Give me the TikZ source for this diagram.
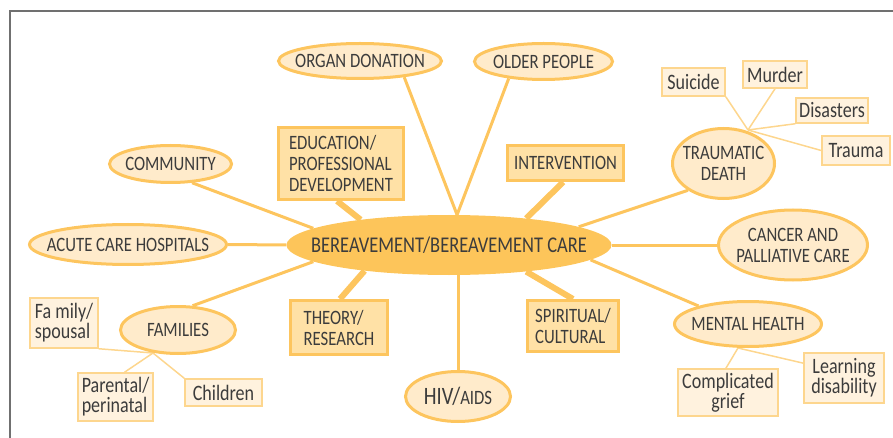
\documentclass[tikz,border=0pt]{standalone}
\usepackage{fontspec}
\setmainfont{Carlito}[FakeStretch=0.82]
\usetikzlibrary{shapes.geometric,backgrounds}
\definecolor{edge}{HTML}{FDC55E}
\definecolor{efill}{HTML}{FFEBCB}
\definecolor{rfill}{HTML}{FFE1A6}
\definecolor{sfill}{HTML}{FFF2DE}
\definecolor{sedge}{HTML}{FDD68E}
\definecolor{cfill}{HTML}{FDC55A}
\definecolor{ink}{HTML}{3C3C3C}
\definecolor{framegray}{HTML}{707070}
\begin{document}
\begin{tikzpicture}[x=1pt,y=-1pt,
  every node/.style={text=ink, inner sep=0pt},
  oval/.style={ellipse, draw=edge, line width=3pt, fill=efill, align=center,
    inner xsep=-40pt, inner ysep=-15pt,
    font=\fontsize{20.4}{21}\selectfont},
  topic/.style={rectangle, draw=edge, line width=3pt, fill=rfill, align=left,
    font=\fontsize{20.4}{21}\selectfont},
  sub/.style={rectangle, draw=sedge, line width=1.5pt, fill=sfill,
    font=\fontsize{22}{20}\selectfont},
  link/.style={draw=edge, line width=3pt},
  tlink/.style={draw=edge, line width=6pt},
  slink/.style={draw=sedge, line width=1.5pt},
]
\useasboundingbox (0,0) rectangle (893,438);
\draw[framegray, line width=2pt] (10,438) -- (10,11) -- (893,11);

% central
\node[ellipse, fill=cfill, minimum width=325pt, minimum height=60pt,
  inner xsep=-40pt, inner ysep=-15pt,
  font=\fontsize{22.5}{23}\selectfont] (cen) at (449,245) {BEREAVEMENT/BEREAVEMENT CARE};

% ovals
\node[oval, minimum width=163pt, minimum height=35pt] (organ) at (360,61) {ORGAN DONATION};
\node[oval, minimum width=138pt, minimum height=36pt] (older) at (543.5,61.5) {OLDER PEOPLE};
\node[oval, minimum width=122pt, minimum height=37pt] (comm) at (170.5,164) {COMMUNITY};
\node[oval, minimum width=102pt, minimum height=70pt] (trauma) at (723.5,163.5) {TRAUMATIC\\DEATH};
\node[oval, minimum width=197pt, minimum height=40pt] (acute) at (128,244.5) {ACUTE CARE HOSPITALS};
\node[oval, minimum width=149pt, minimum height=70pt] (cancer) at (793,245) {CANCER AND\\PALLIATIVE CARE};
\node[oval, minimum width=115pt, minimum height=47pt] (families) at (178,330) {FAMILIES};
\node[oval, minimum width=105pt, minimum height=50pt] (hiv) at (458,396.5)
  {\fontsize{25}{25}\selectfont HIV/\fontsize{20.4}{21}\selectfont AIDS};
\node[oval, minimum width=147pt, minimum height=45pt] (mental) at (748,324) {MENTAL HEALTH};

% topic boxes
\node[topic, minimum width=125pt, minimum height=72pt] (edu) at (341,163.5) {EDUCATION/\\PROFESSIONAL\\DEVELOPMENT};
\node[topic, minimum width=116pt, minimum height=35pt] (interv) at (565.5,163) {INTERVENTION};
\node[topic, minimum width=97pt, minimum height=54pt] (theory) at (339,327.5) {THEORY/\\RESEARCH};
\node[topic, minimum width=91pt, minimum height=51pt] (spirit) at (573,326) {SPIRITUAL/\\CULTURAL};

% small boxes
\node[sub, minimum width=63pt, minimum height=28pt] (suicide) at (693.5,82) {Suicide};
\node[sub, minimum width=64pt, minimum height=27pt] (murder) at (775,74.5) {Murder};
\node[sub, minimum width=72pt, minimum height=25pt] (disasters) at (832,110.5) {Disasters};
\node[sub, minimum width=68pt, minimum height=29pt] (traumaw) at (856,150.5) {Trauma};
\node[sub, minimum width=68pt, minimum height=50pt, align=left] (fam) at (64,323) {Fa mily/\\spousal};
\node[sub, minimum width=75pt, minimum height=48pt, align=left] (parental) at (115.5,397) {Parental/\\perinatal};
\node[sub, minimum width=77pt, minimum height=27pt] (children) at (223.5,392.5) {Children};
\node[sub, minimum width=100pt, minimum height=47pt, align=center] (complicated) at (728,392.5) {Complicated\\grief};
\node[sub, minimum width=80pt, minimum height=50pt, align=center] (learning) at (844,378) {Learning\\disability};

\coordinate (tj) at (748,130);
\coordinate (fj) at (153,353);
\coordinate (mj) at (738,348);

\begin{scope}[on background layer]
  \draw[link] (organ.-20) -- (cen.75);
  \draw[link] (older.206) -- (cen.75);
  \draw[link] (comm.-41) -- (cen.173);
  \draw[tlink] (edu.-96) -- (cen.164);
  \draw[tlink] (interv.-97) -- (cen.19);
  \draw[link] (trauma.217) -- (cen.8);
  \draw[link] (acute.east) -- (cen.west);
  \draw[link] (cen.east) -- (cancer.west);
  \draw[link] (families.59) -- (cen.187);
  \draw[tlink] (theory.88) -- (cen.197);
  \draw[link] (hiv.north) -- (hiv.north |- cen.center);
  \draw[tlink] (spirit.north) -- (cen.-19);
  \draw[link] (mental.160) -- (cen.-6);

  \draw[slink] (suicide.south east) -- (tj);
  \draw[slink] (murder.south) -- (tj);
  \draw[slink] (disasters.south west) -- (tj);
  \draw[slink] (traumaw.west) -- (tj);
  \draw[slink] (fam.south east) -- (fj);
  \draw[slink] (parental.70) -- (fj);
  \draw[slink] (children.north west) -- (fj);
  \draw[slink] (complicated.95) -- (mj);
  \draw[slink] (learning.160) -- (mj);
\end{scope}
\end{tikzpicture}
\end{document}
